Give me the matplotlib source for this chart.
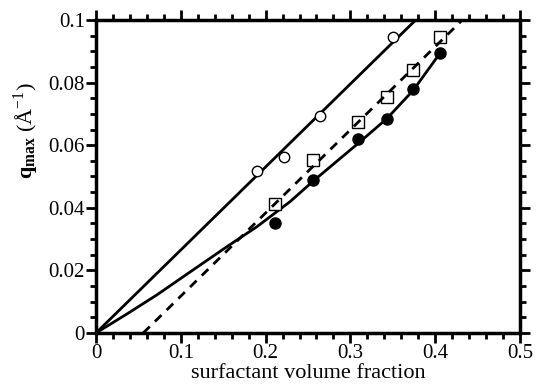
import matplotlib
matplotlib.use("Agg")
import matplotlib.pyplot as plt
from matplotlib.ticker import MultipleLocator

plt.rcParams['font.family'] = ['Liberation Serif', 'DejaVu Serif']
plt.rcParams['mathtext.fontset'] = 'custom'
plt.rcParams['mathtext.rm'] = 'Liberation Serif'
plt.rcParams['mathtext.bf'] = 'Liberation Serif:bold'

# open circles
x_open = [0.190, 0.222, 0.264, 0.350]
y_open = [0.0518, 0.0562, 0.0693, 0.0946]

# open squares
x_sq = [0.211, 0.256, 0.309, 0.343, 0.374, 0.406]
y_sq = [0.0412, 0.0553, 0.0674, 0.0754, 0.0840, 0.0946]

# filled circles
x_fill = [0.211, 0.256, 0.309, 0.343, 0.374, 0.406]
y_fill = [0.0351, 0.0489, 0.0620, 0.0684, 0.0780, 0.0895]

# straight solid line through origin
x_line1 = [0.0, 0.377]
y_line1 = [0.0, 0.1]

# dashed line
x_dash = [0.0557, 0.432]
y_dash = [0.0, 0.1]

# curved fit through filled circles
x_curve = [0.0, 0.036, 0.072, 0.111, 0.154, 0.190, 0.229, 0.256, 0.311, 0.343, 0.374, 0.406]
y_curve = [0.0, 0.0060, 0.0122, 0.0195, 0.0275, 0.0340, 0.0420, 0.0485, 0.0610, 0.0685, 0.0775, 0.0895]

x_ticks = [0, 0.1, 0.2, 0.3, 0.4, 0.5]
x_labels = ['0', '0.1', '0.2', '0.3', '0.4', '0.5']
y_ticks = [0, 0.02, 0.04, 0.06, 0.08, 0.1]
y_labels = ['0', '0.02', '0.04', '0.06', '0.08', '0.1']

fig = plt.figure(figsize=(5.43, 3.90), dpi=100)
ax = fig.add_axes([0.1768, 0.1462, 0.7808, 0.8025])

ax.plot(x_line1, y_line1, color='black', lw=2, zorder=2)
ax.plot(x_curve, y_curve, color='black', lw=2, zorder=2)
ax.plot(x_dash, y_dash, color='black', lw=2, ls=(0, (3.3, 2.6)), zorder=4)

ax.plot(x_open, y_open, 'o', ms=7.5, mfc='white', mec='black', mew=1, zorder=3)
ax.plot(x_sq, y_sq, 's', ms=8, mfc='white', mec='black', mew=1, zorder=3)
ax.plot(x_fill, y_fill, 'o', ms=8, mfc='black', mec='black', zorder=5)

ax.set_xlim(0, 0.5)
ax.set_ylim(0, 0.1)
ax.set_xticks(x_ticks, x_labels)
ax.set_yticks(y_ticks, y_labels)
ax.xaxis.set_minor_locator(MultipleLocator(0.02))
ax.yaxis.set_minor_locator(MultipleLocator(0.005))

for s in ax.spines.values():
    s.set_linewidth(2.5)
ax.tick_params(which='both', direction='out', top=True, right=True,
               labeltop=False, labelright=False, width=2, labelsize=15)
ax.tick_params(which='major', length=7, pad=1)
ax.tick_params(which='minor', length=4)

ax.set_xlabel('surfactant volume fraction', fontsize=16, labelpad=1)
ax.set_ylabel(r'$\mathbf{q_{max}}$ (Å$^{\mathrm{-1}}$)', fontsize=16, labelpad=2)
ax.yaxis.set_label_coords(-0.13, 0.645)

fig.savefig('out.png', dpi=100)
